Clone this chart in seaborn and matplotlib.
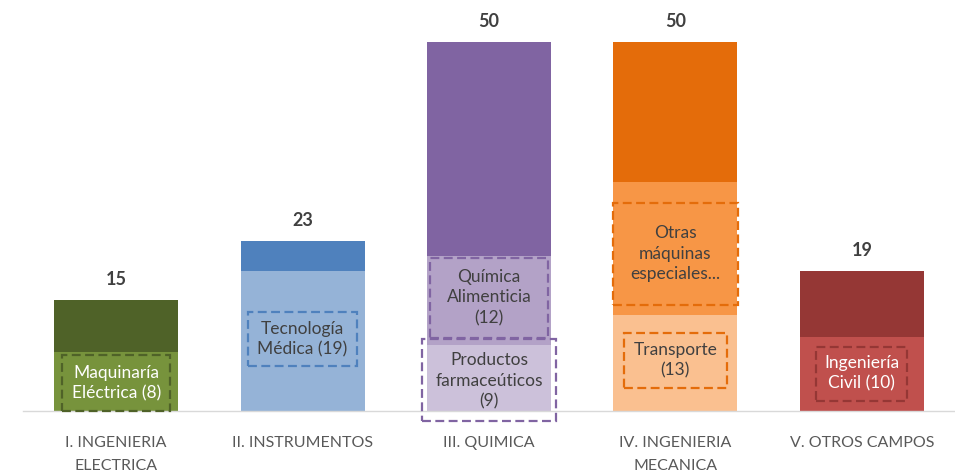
import matplotlib
matplotlib.use("Agg")
import matplotlib.pyplot as plt
import seaborn as sns
import pandas as pd
from matplotlib.patches import Rectangle

# Data
categories = ["I. INGENIERIA\nELECTRICA", "II. INSTRUMENTOS", "III. QUIMICA",
              "IV. INGENIERIA\nMECANICA", "V. OTROS CAMPOS"]
bottom_vals = [8, 19, 9, 13, 10]
middle_vals = [0, 0, 12, 18, 0]
totals = [15, 23, 50, 50, 19]

# Colors
top_colors = ["#4F6228", "#4F81BD", "#8064A2", "#E46C0A", "#953735"]
mid_colors = ["#77933C", "#95B3D7", "#B3A2C7", "#F79646", "#C0504D"]
bot_colors = ["#77933C", "#95B3D7", "#CCC1DA", "#FAC090", "#C0504D"]

# In-bar labels: (cat index, text, y center, text color)
seg_labels = [
    (0, "Maquinaría\nEléctrica (8)", 3.8, "white"),
    (1, "Tecnología\nMédica (19)", 9.75, "#404040"),
    (2, "Química\nAlimenticia\n(12)", 15.4, "#404040"),
    (2, "Productos\nfarmaceúticos\n(9)", 4.1, "#404040"),
    (3, "Otras\nmáquinas\nespeciales...", 21.3, "#404040"),
    (3, "Transporte\n(13)", 6.9, "#404040"),
    (4, "Ingeniería\nCivil (10)", 5.1, "white"),
]
# dashed boxes: (cat index, y0, y1, half width, color)
boxes = [
    (0, 0.05, 7.6, 0.29, "#4F6228"),
    (1, 6.1, 13.4, 0.29, "#4F81BD"),
    (2, 9.9, 20.7, 0.315, "#8064A2"),
    (2, -1.3, 9.8, 0.36, "#8064A2"),
    (3, 14.4, 28.2, 0.335, "#E46C0A"),
    (3, 3.1, 10.6, 0.275, "#E46C0A"),
    (4, 1.4, 8.7, 0.245, "#953735"),
]

cum_mid = [b + m for b, m in zip(bottom_vals, middle_vals)]
df = pd.DataFrame({"cat": categories, "total": totals, "mid": cum_mid, "bottom": bottom_vals})

sns.set_style("white")
plt.rcParams["font.family"] = ["Lato", "DejaVu Sans"]

fig = plt.figure(figsize=(9.55, 4.76), dpi=100)
ax = fig.add_axes([0.024, 0.1366, 0.976, 0.8634])

w = 0.665
for col, pal in [("total", top_colors), ("mid", mid_colors), ("bottom", bot_colors)]:
    sns.barplot(data=df, x="cat", y=col, hue="cat", palette=pal, width=w,
                legend=False, ax=ax, saturation=1, linewidth=0)

for i, t in enumerate(totals):
    ax.text(i, t + 2.8, str(t), ha="center", va="center", fontsize=13,
            fontweight="bold", color="#404040")

for i, txt, y, c in seg_labels:
    ax.text(i, y, txt, ha="center", va="center", fontsize=12.5, color=c,
            linespacing=1.35)

for i, y0, y1, hw, c in boxes:
    ax.add_patch(Rectangle((i - hw, y0), 2 * hw, y1 - y0, fill=False,
                           edgecolor=c, linestyle=(0, (4, 2)), linewidth=1.6,
                           clip_on=False, zorder=5))

ax.set_xlim(-0.5, 4.5)
ax.set_ylim(0, 55.7)
ax.set_xlabel("")
ax.set_ylabel("")
ax.set_yticks([])
ax.tick_params(axis="x", length=0, labelsize=11.5, labelcolor="#595959", pad=18)
for lbl in ax.get_xticklabels():
    lbl.set_linespacing(1.85)
for s in ["top", "right", "left"]:
    ax.spines[s].set_visible(False)
ax.spines["bottom"].set_color("#D9D9D9")
ax.spines["bottom"].set_linewidth(1)

fig.savefig("out.png", dpi=100)
